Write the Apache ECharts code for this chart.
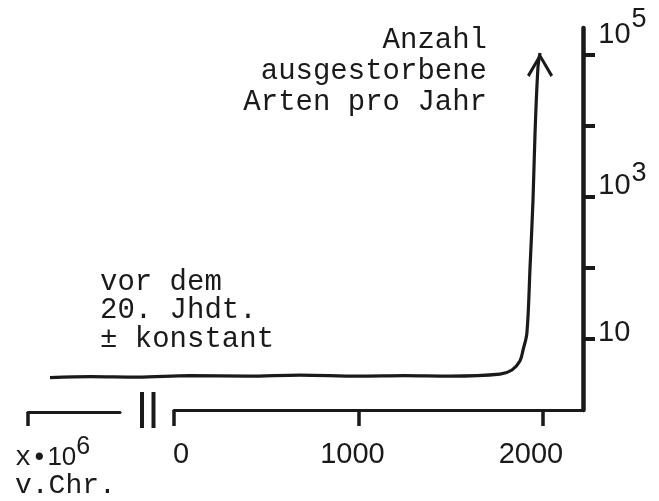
<!DOCTYPE html>
<html>
<head>
<meta charset="utf-8">
<title>Ausgestorbene Arten pro Jahr</title>
<script src="https://cdn.jsdelivr.net/npm/echarts@6/dist/echarts.min.js"></script>
<style>
  html, body { margin: 0; padding: 0; background: #fff; }
  #chart { width: 659px; height: 501px; }
</style>
</head>
<body>
<div id="chart"></div>
<script>
// Jahr -> Anzahl ausgestorbener Arten pro Jahr
const years = [-672, -450, -200, 87, 400, 683, 1000, 1250, 1496, 1767, 1832, 1875, 1892, 1913, 1930, 1946, 1957, 1973, 1984];
const extinctPerYear = [2.85, 2.95, 2.9, 3.04, 3.0, 3.1, 3.0, 3.05, 3.0, 3.2, 3.66, 4.9, 7.0, 12.2, 103, 907, 7960, 67800, 106700];

const xTicks = [0, 1000, 2000];
const yTicks = [10, 100, 1000, 10000, 100000];
const yLabels = [10, 1000, 100000];

const titleLines = ["Anzahl", "ausgestorbene", "Arten pro Jahr"];
const noteLines = ["vor dem", "20. Jhdt.", "± konstant"];

const ink = "#1a1a1a";
const mono = "'Liberation Mono', 'DejaVu Sans Mono', monospace";
const sans = "'Liberation Sans', Arial, sans-serif";

const el = (id) => document.getElementById(id);
const chart = echarts.init(el("chart"));

const arrowHead = "path://M13,0 L26,21 L23.5,23 L13,5.5 L2.5,23 L0,21 Z";
const lastIdx = years.length - 1;
const seriesData = years.map((yr, i) => {
  if (i === lastIdx) {
    return { value: [yr, extinctPerYear[i]], symbol: arrowHead, symbolSize: [26, 24], symbolOffset: [0, 12] };
  }
  return { value: [yr, extinctPerYear[i]], symbol: "none" };
});

// second line {g| } only pushes the label up, {h| } makes room for the exponent
function yLabel(v) {
  if (v > 50000) return "{h5| }{b|10}{s|5}\n{g5| }";
  if (v > 500) return "{h3| }{b|10}{s|3}\n{g3| }";
  return "{b|10}\n{g1| }";
}

function xLabel(v) {
  if (v === 0) return "{a|0}";
  if (v === 1000) return "{b|1000}";
  return "{c|2000}";
}

const digit = { fontFamily: sans, fontSize: 29, lineHeight: 30, color: ink };
const spacer = (h) => ({ fontSize: 1, lineHeight: h, color: "transparent" });

// x pixel scale of the right segment is reused for the series grid
const xMax = 2217;
const segLeft = 174, segRight = 583, farLeft = 28;
const xMin = -(segLeft - farLeft) * xMax / (segRight - segLeft);

chart.setOption({
  animation: false,
  backgroundColor: "#fff",
  grid: [
    { left: farLeft, right: 659 - segRight, top: 28, bottom: 91 },
    { left: segLeft, right: 659 - segRight, top: 28, bottom: 91 },
    { left: farLeft, width: 92, top: 28, bottom: 89 }
  ],
  xAxis: [{
    gridIndex: 0, type: "value", min: xMin, max: xMax, show: false
  }, {
    gridIndex: 1, type: "value", min: 0, max: xMax,
    axisLine: { show: true, onZero: false, lineStyle: { color: ink, width: 3 } },
    axisTick: { show: true, customValues: xTicks, length: 16, lineStyle: { color: ink, width: 3.5 } },
    axisLabel: {
      customValues: xTicks, margin: 30, formatter: xLabel,
      rich: {
        a: Object.assign({}, digit, { padding: [0, 0, 0, 14] }),
        b: Object.assign({}, digit, { padding: [0, 12, 0, 0] }),
        c: Object.assign({}, digit, { padding: [0, 24, 0, 0] })
      }
    },
    splitLine: { show: false }
  }, {
    gridIndex: 2, type: "value", min: 0, max: 1,
    axisLine: { show: true, onZero: false, lineStyle: { color: ink, width: 3 } },
    axisTick: { show: true, customValues: [0], length: 14, lineStyle: { color: ink, width: 3.5 } },
    axisLabel: { show: false },
    splitLine: { show: false }
  }],
  yAxis: [{
    gridIndex: 0, type: "log", logBase: 10, min: 1, max: 240000, position: "right",
    axisLine: { show: true, onZero: false, lineStyle: { color: ink, width: 4.5 } },
    axisTick: { show: true, customValues: yTicks, length: 12, lineStyle: { color: ink, width: 4 } },
    axisLabel: {
      customValues: yLabels, margin: 15, formatter: yLabel,
      rich: {
        b: Object.assign({}, digit, { verticalAlign: "bottom" }),
        s: { fontFamily: sans, fontSize: 27, lineHeight: 25, color: ink, verticalAlign: "top", padding: [0, 0, 0, 1] },
        h5: spacer(43.5), g5: spacer(53.5),
        h3: spacer(40.5), g3: spacer(32.5),
        g1: spacer(12)
      }
    },
    splitLine: { show: false }
  }, {
    gridIndex: 1, type: "value", show: false
  }, {
    gridIndex: 2, type: "value", show: false
  }],
  series: [{
    type: "line",
    xAxisIndex: 0, yAxisIndex: 0,
    data: seriesData,
    clip: false,
    smooth: 0.35,
    showSymbol: true,
    showAllSymbol: true,
    lineStyle: { color: ink, width: 3.2 },
    itemStyle: { color: ink, borderWidth: 0 },
    emphasis: { disabled: true },
    silent: true
  }],
  graphic: [
    {
      type: "text", x: 487, y: 25,
      style: { text: titleLines.join("\n"), font: "29px " + mono, lineHeight: 31, fill: ink, align: "right", verticalAlign: "top" }
    },
    {
      type: "text", x: 100, y: 268,
      style: { text: noteLines.join("\n"), font: "29px " + mono, lineHeight: 28.5, fill: ink, align: "left", verticalAlign: "top" }
    },
    {
      type: "text", x: 15, y: 435,
      style: {
        text: "{m|x•}{n|10}{s|6}", align: "left", verticalAlign: "top",
        rich: {
          m: { fontFamily: mono, fontSize: 27, lineHeight: 30, padding: [9.5, 0, 0, 0], verticalAlign: "top", fill: ink, color: ink },
          n: { fontFamily: sans, fontSize: 26, lineHeight: 30, padding: [9.5, 0, 0, 0], verticalAlign: "top", fill: ink, color: ink },
          s: { fontFamily: sans, fontSize: 25, lineHeight: 25, verticalAlign: "top", fill: ink, color: ink }
        }
      }
    },
    {
      type: "text", x: 15, y: 485.5,
      style: { text: "v.Chr.", font: "28px " + mono, fill: ink, align: "left", verticalAlign: "middle" }
    },
    { type: "line", shape: { x1: 142, y1: 392, x2: 142, y2: 428 }, style: { stroke: ink, lineWidth: 4 } },
    { type: "line", shape: { x1: 153.5, y1: 392, x2: 153.5, y2: 428 }, style: { stroke: ink, lineWidth: 4 } }
  ]
});
</script>
</body>
</html>
